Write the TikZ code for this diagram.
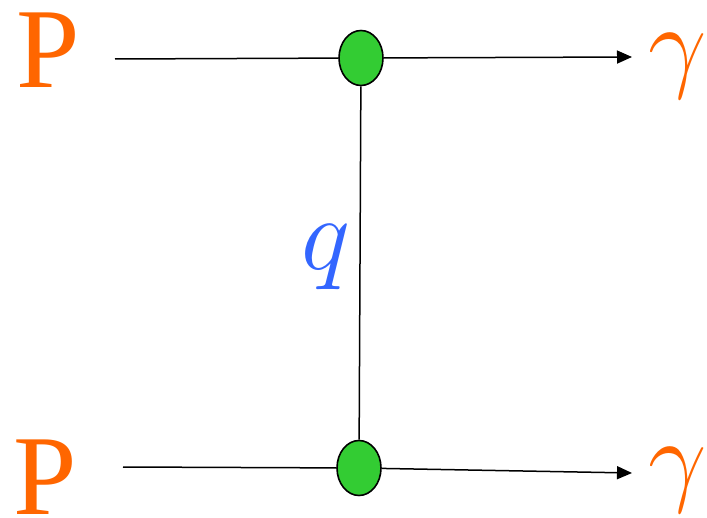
\documentclass[tikz,border=0pt]{standalone}
\usepackage{fix-cm}
\usepackage{fontspec}
\setmainfont{Liberation Serif}
\usetikzlibrary{arrows.meta, shapes.geometric}
\definecolor{protorange}{HTML}{FF6600}
\definecolor{quarkblue}{HTML}{3366FF}
\definecolor{vertgreen}{HTML}{33CC33}

\begin{document}
\begin{tikzpicture}[x=1pt, y=-1pt,
    blob/.style={ellipse, draw, line width=1.6pt, fill=vertgreen,
                 minimum width=44pt, minimum height=55pt, inner sep=0pt},
    big/.style={inner sep=0pt, font=\fontsize{114}{114}\selectfont},
    mid/.style={inner sep=0pt, font=\fontsize{104}{104}\selectfont},
    prop/.style={line width=1.5pt},
    arr/.style={prop, -{Triangle[length=15pt, width=13pt]}}]
  \useasboundingbox (0,0) rectangle (707,518);
  % vertices
  \node[blob] (v1) at (361,58) {};
  \node[blob] (v2) at (359,468) {};
  % external legs
  \coordinate (in1) at (115,59);
  \coordinate (out1) at (632,57);
  \coordinate (in2) at (123,467);
  \coordinate (out2) at (632,473);
  % labels
  \node[big, text=protorange] (p1) at (48,50) {P};
  \node[big, text=protorange] (p2) at (45,477) {P};
  \node[mid, text=protorange] (g1) at (678,66) {$\gamma$};
  \node[mid, text=protorange] (g2) at (678,480) {$\gamma$};
  \node[mid, text=quarkblue] (q) at (326,257) {$q$};
  \draw[prop] (in1) -- (v1); \draw[arr] (v1) -- (out1);
  \draw[prop] (in2) -- (v2); \draw[arr] (v2) -- (out2);
  \draw[prop] (v1) -- (v2);
\end{tikzpicture}
\end{document}
